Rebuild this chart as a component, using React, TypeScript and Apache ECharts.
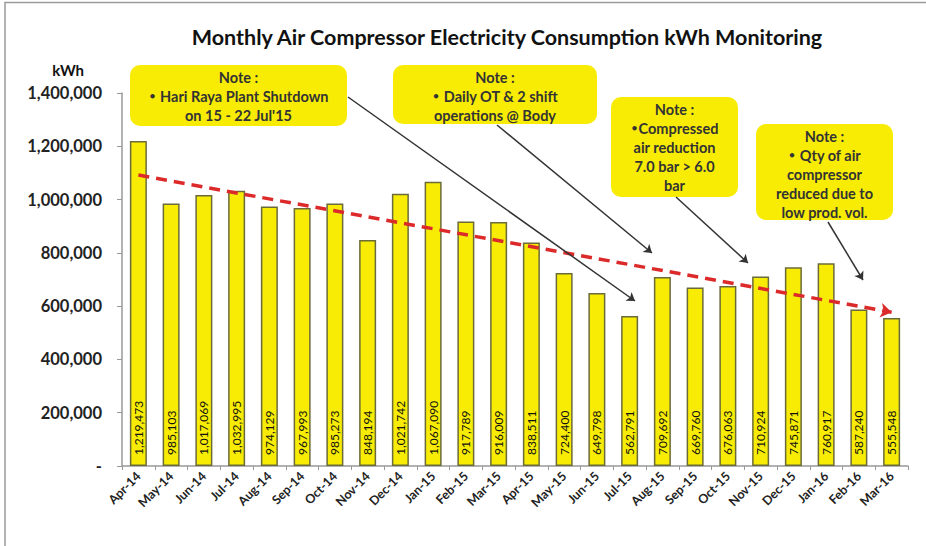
import React, { useEffect, useRef } from "react";
import * as echarts from "echarts";

const months = [
  "Apr-14", "May-14", "Jun-14", "Jul-14", "Aug-14", "Sep-14", "Oct-14", "Nov-14",
  "Dec-14", "Jan-15", "Feb-15", "Mar-15", "Apr-15", "May-15", "Jun-15", "Jul-15",
  "Aug-15", "Sep-15", "Oct-15", "Nov-15", "Dec-15", "Jan-16", "Feb-16", "Mar-16",
];
const consumption = [
  1219473, 985103, 1017069, 1032995, 974129, 967993, 985273, 848194,
  1021742, 1067090, 917789, 916009, 838511, 724400, 649798, 562791,
  709692, 669760, 676063, 710924, 745871, 760917, 587240, 555548,
];
// Trend line end values (first and last month)
const trendValues = [1092000, 577000];

const titleText = "Monthly Air Compressor Electricity Consumption kWh Monitoring";
const yAxisName = "kWh";
const notes = [
  "Note :\n{b|•} Hari Raya Plant Shutdown\non 15 - 22 Jul'15",
  "Note :\n{b|•} Daily OT & 2 shift\noperations @ Body",
  "Note :\n{b|•}Compressed\nair reduction\n7.0 bar > 6.0\nbar",
  "Note :\n{b|•} Qty of air\ncompressor\nreduced due to\nlow prod. vol.",
];

const FONT = "Lato, 'Open Sans', sans-serif";
const YELLOW = "#F8EC05";

function fmt(v: number) {
  return v.toString().replace(/\B(?=(\d{3})+(?!\d))/g, ",");
}

export default function App() {
  const ref = useRef<HTMLDivElement>(null);
  useEffect(() => {
    if (!ref.current) return;
    const chart = echarts.init(ref.current, undefined, { renderer: "svg" });

    const boxes = [
      { x: 130, y: 65, w: 217, h: 61 },
      { x: 393, y: 65, w: 204, h: 59 },
      { x: 611, y: 97, w: 127, h: 100 },
      { x: 756, y: 124, w: 137, h: 96 },
    ];
    const arrows = [
      [348, 97, 635, 301],
      [497, 125, 652, 253],
      [676, 197, 748, 263],
      [828, 222, 863, 280],
    ];

    const noteGraphics = boxes.map((b, i) => ({
      type: "group",
      z: 50,
      children: [
        {
          type: "rect",
          shape: { x: b.x, y: b.y, width: b.w, height: b.h, r: 10 },
          style: { fill: YELLOW, stroke: "none" },
        },
        {
          type: "text",
          x: b.x + b.w / 2,
          y: b.y + 3,
          style: {
            text: notes[i],
            font: `bold 14.5px ${FONT}`,
            fill: "#333333",
            align: "center",
            verticalAlign: "top",
            lineHeight: 19,
            rich: {
              b: {
                fontFamily: "'DejaVu Sans', sans-serif",
                fontWeight: "bold",
                fontSize: 12.5,
                fill: "#333333",
                lineHeight: 19,
              },
            },
          },
        },
      ],
    }));

    const labelData = consumption.map((v, i) => [i, v]);

    chart.setOption({
      animation: false,
      backgroundColor: "#ffffff",
      title: {
        text: titleText,
        left: 502,
        top: 21,
        textAlign: "center",
        textStyle: { fontFamily: FONT, fontWeight: "bold", fontSize: 21.5, color: "#111" },
      },
      grid: { left: 122, right: 18, top: 93, bottom: 80, containLabel: false },
      xAxis: {
        type: "category",
        data: months,
        axisLine: { show: true, lineStyle: { color: "#999", width: 1.5 } },
        axisTick: { show: true, lineStyle: { color: "#999" }, length: 4 },
        axisLabel: {
          rotate: 45,
          interval: 0,
          fontFamily: FONT,
          fontWeight: "bold",
          fontSize: 12.5,
          color: "#222",
          margin: 8,
        },
      },
      yAxis: {
        type: "value",
        min: 0,
        max: 1400000,
        interval: 200000,
        name: yAxisName,
        nameLocation: "end",
        nameGap: 16,
        nameTextStyle: {
          fontFamily: FONT,
          fontWeight: "bold",
          fontSize: 15,
          color: "#111",
          align: "right",
          padding: [0, 38, 0, 0],
        },
        axisLine: { show: true, lineStyle: { color: "#999", width: 1.5 } },
        axisTick: { show: true, lineStyle: { color: "#999" }, length: 5 },
        splitLine: { show: false },
        axisLabel: {
          fontFamily: FONT,
          fontWeight: "bold",
          fontSize: 16.5,
          color: "#222",
          margin: 20,
          formatter: (v: number) => (v === 0 ? "-" : fmt(v)),
        },
      },
      series: [
        {
          type: "bar",
          data: consumption,
          barWidth: 17,
          itemStyle: { color: YELLOW, borderColor: "#6b6b3a", borderWidth: 1.5 },
          label: { show: false },
          markLine: {
            silent: true,
            z: 40,
            label: { show: false },
            data: [
              [
                {
                  coord: [0, trendValues[0]],
                  symbol: "none",
                  lineStyle: { color: "#DC2A2A", width: 3.5, type: [11, 7] },
                },
                { coord: [months.length - 1, trendValues[1]], symbol: "arrow", symbolSize: 11 },
              ],
              ...arrows.map((a) => [
                {
                  x: a[0],
                  y: a[1],
                  symbol: "none",
                  lineStyle: { color: "#333", width: 1.5, type: "solid" },
                },
                { x: a[2], y: a[3], symbol: "arrow", symbolSize: 8 },
              ]),
            ],
          },
        },
        {
          type: "custom",
          data: labelData,
          encode: { x: 0, y: 1 },
          z: 5,
          silent: true,
          renderItem: (params: any, api: any) => {
            const idx = api.value(0);
            const val = api.value(1);
            const base = api.coord([idx, 0]);
            return {
              type: "text",
              x: base[0],
              y: base[1] - 11,
              rotation: Math.PI / 2,
              style: {
                text: fmt(val),
                fill: "#111",
                font: `12px ${FONT}`,
                align: "left",
                verticalAlign: "middle",
              },
            };
          },
        },
      ],
      graphic: [
        {
          type: "polyline",
          shape: { points: [[5, 560], [5, 2.5], [940, 2.5]] },
          style: { stroke: "#9a9a9a", fill: "none", lineWidth: 1.5 },
          z: 1,
        },
        ...noteGraphics,
      ],
    });
    return () => chart.dispose();
  }, []);
  return (
    <div
      ref={ref}
      style={{ position: "fixed", left: 0, top: 0, width: 926, height: 546 }}
    />
  );
}
